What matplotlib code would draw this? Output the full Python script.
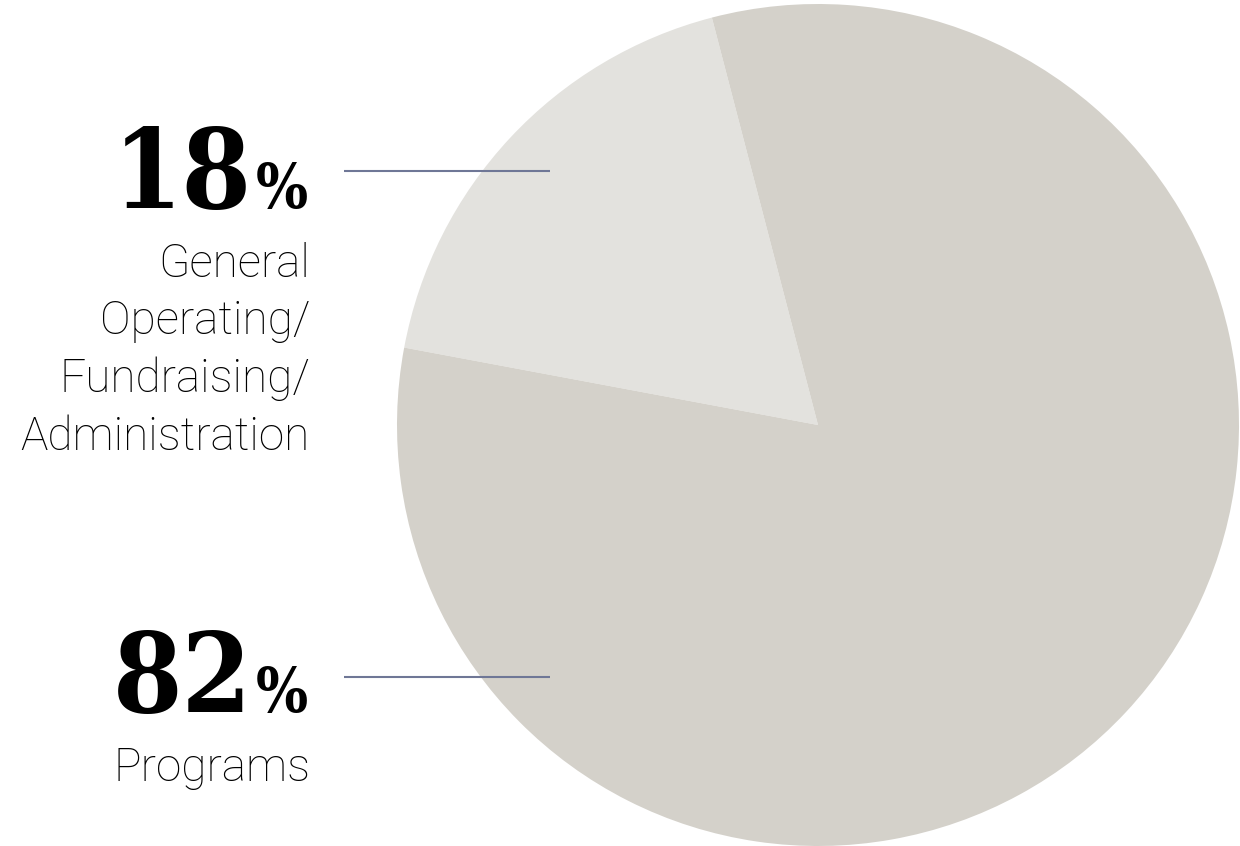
import matplotlib.pyplot as plt

# slice values (percent) and labels
shares = [18, 82]
pct_labels = ['18', '82']
names = ['General\nOperating/\nFundraising/\nAdministration', 'Programs']
colors = ['#e3e2de', '#d4d1ca']

W, H = 1240, 846
fig = plt.figure(figsize=(W / 100, H / 100), dpi=100)
ax = fig.add_axes([0, 0, 1, 1])
ax.set_aspect('equal')

# pie in pixel units, slice boundary at about 104.6 deg
ax.pie(shares, colors=colors, startangle=104.6, counterclock=True,
       center=(818, H - 425), radius=421, frame=True,
       wedgeprops=dict(linewidth=0))
ax.set_xlim(0, W)
ax.set_ylim(0, H)
ax.axis('off')

big_font = dict(family='DejaVu Serif', weight='bold', stretch='condensed',
                color='black')
sans = dict(family=['Roboto', 'DejaVu Sans'], weight='light', color='black')

# label rows: y of the leader line, baseline of the big number
rows = [(171, 208), (677, 712)]
for (line_y, base_y), pct, name in zip(rows, pct_labels, names):
    ax.plot([344, 550], [H - line_y, H - line_y], color='#6f7796', lw=1.5,
            solid_capstyle='butt', zorder=5)
    ax.text(252, H - base_y, pct, ha='right', va='baseline',
            fontsize=80, **big_font)
    ax.text(308, H - base_y, '%', ha='right', va='baseline',
            fontsize=44, **big_font)
    ax.text(310, H - base_y - 34, name, ha='right', va='top',
            fontsize=33, linespacing=1.38, **sans)

fig.savefig('out.png', dpi=100)
